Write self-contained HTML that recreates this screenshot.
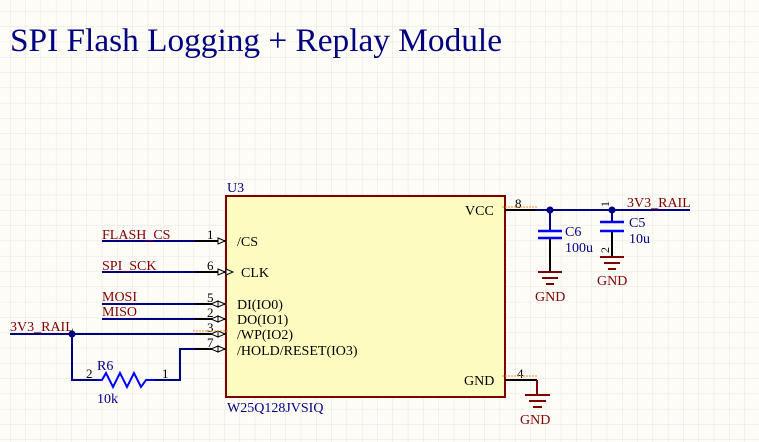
<!DOCTYPE html>
<html><head><meta charset="utf-8"><style>
html,body{margin:0;padding:0;background:#fdfcf7}
svg{display:block}
text{font-family:"Liberation Serif",serif}
</style></head><body>
<svg width="759" height="442" viewBox="0 0 759 442" xmlns="http://www.w3.org/2000/svg">
<defs>
<pattern id="g" x="10" y="11.1" width="15.3" height="15.3" patternUnits="userSpaceOnUse">
<path d="M0 0V15.3M0 0H15.3" stroke="#e7e5df" stroke-width="1" fill="none"/>
</pattern>
</defs>
<rect width="759" height="442" fill="#fdfcf7"/>
<rect width="759" height="442" fill="url(#g)"/>
<text x="10" y="51" font-size="33" fill="#000080" textLength="492" lengthAdjust="spacingAndGlyphs">SPI Flash Logging + Replay Module</text>

<rect x="226" y="196" width="279" height="201" fill="#fdfbc0" stroke="#800000" stroke-width="2"/>
<text x="227" y="192" font-size="14" fill="#000080">U3</text>
<text x="227" y="412" font-size="14" fill="#000080">W25Q128JVSIQ</text>
<g font-size="14" fill="#000">
<text x="237" y="246">/CS</text>
<text x="241" y="277">CLK</text>
<text x="237" y="309">DI(IO0)</text>
<text x="237" y="324">DO(IO1)</text>
<text x="237" y="339">/WP(IO2)</text>
<text x="237" y="355">/HOLD/RESET(IO3)</text>
<text x="465" y="215">VCC</text>
<text x="464" y="385">GND</text>
</g>
<g stroke="#000" stroke-width="2">
<line x1="195" y1="241" x2="226" y2="241"/>
<line x1="195" y1="272" x2="226" y2="272"/>
<line x1="195" y1="304" x2="226" y2="304"/>
<line x1="195" y1="319" x2="226" y2="319"/>
<line x1="195" y1="334" x2="226" y2="334"/>
<line x1="195" y1="349" x2="226" y2="349"/>
<line x1="505" y1="210" x2="535" y2="210"/>
<line x1="505" y1="380" x2="537" y2="380"/>
</g>
<g font-size="13" fill="#000">
<text x="207" y="239">1</text><text x="207" y="270">6</text>
<text x="207" y="302">5</text><text x="207" y="317">2</text>
<text x="207" y="332">3</text><text x="207" y="347">7</text>
<text x="515" y="208">8</text><text x="517" y="378">4</text>
</g>
<g fill="#fff" stroke="#000" stroke-width="1">
<path d="M218 238L225 241L218 244Z"/>
<path d="M218 269L225 272L218 275Z"/><path d="M226 269L233 272L226 275Z"/>
<path d="M218 301L225 304L218 307Z"/><path d="M218 301L211 304L218 307Z"/>
<path d="M218 316L225 319L218 322Z"/><path d="M218 316L211 319L218 322Z"/>
<path d="M218 331L225 334L218 337Z"/><path d="M218 331L211 334L218 337Z"/>
<path d="M218 346L225 349L218 352Z"/><path d="M218 346L211 349L218 352Z"/>
</g>
<g stroke="#f0902a" stroke-width="1" stroke-dasharray="2 1">
<line x1="193" y1="331" x2="229" y2="331"/>
<line x1="502" y1="207" x2="538" y2="207"/>
<line x1="502" y1="376" x2="537" y2="376"/>
</g>
<g stroke="#000080" stroke-width="2" fill="none">
<line x1="102" y1="241" x2="195" y2="241"/>
<line x1="102" y1="272" x2="195" y2="272"/>
<line x1="102" y1="304" x2="195" y2="304"/>
<line x1="102" y1="319" x2="195" y2="319"/>
<line x1="10" y1="334" x2="195" y2="334"/>
<path d="M72 334V380H97"/>
<path d="M155 380H180V349H195"/>
<line x1="535" y1="210" x2="690" y2="210"/>
</g>
<g font-size="14" fill="#800000">
<text x="102" y="239">FLASH_CS</text>
<text x="102" y="270">SPI_SCK</text>
<text x="102" y="301">MOSI</text>
<text x="102" y="316">MISO</text>
<text x="10" y="331">3V3_RAIL</text>
<text x="627" y="207">3V3_RAIL</text>
</g>
<circle cx="72" cy="334" r="3.5" fill="#000080"/>
<circle cx="550" cy="210" r="3.5" fill="#000080"/>
<circle cx="612" cy="210" r="3.5" fill="#000080"/>
<path d="M97 380H102L106 373L113 387L120 373L127 387L134 373L141 387L146 380H155" stroke="#0000ff" stroke-width="2" fill="none"/>
<g font-size="13"><text x="86" y="378" fill="#000">2</text><text x="162" y="378" fill="#000">1</text>
<text x="97" y="370" fill="#000080" font-size="14">R6</text><text x="97" y="403" fill="#000080" font-size="14">10k</text></g>
<g stroke="#000" stroke-width="2"><line x1="550" y1="210" x2="550" y2="231"/><line x1="550" y1="238" x2="550" y2="272"/>
<line x1="612" y1="210" x2="612" y2="222"/><line x1="612" y1="230" x2="612" y2="256"/></g>
<line x1="550" y1="210" x2="550" y2="231" stroke="#000080" stroke-width="2"/>
<line x1="612" y1="210" x2="612" y2="222" stroke="#000080" stroke-width="2"/>
<g stroke="#0000ff" stroke-width="2.5">
<line x1="538" y1="231" x2="562" y2="231"/><line x1="538" y1="238" x2="562" y2="238"/>
<line x1="600" y1="222" x2="624" y2="222"/><line x1="600" y1="231" x2="624" y2="231"/>
</g>
<g font-size="14" fill="#000080"><text x="565" y="236">C6</text><text x="565" y="252">100u</text>
<text x="629" y="227">C5</text><text x="629" y="243">10u</text></g>
<text x="0" y="0" font-size="12" fill="#000" transform="translate(609 207) rotate(-90)">1</text>
<text x="0" y="0" font-size="12" fill="#000" transform="translate(609 253) rotate(-90)">2</text>
<g stroke="#800000" stroke-width="2">
<line x1="538" y1="272" x2="562" y2="272"/><line x1="542" y1="278" x2="558" y2="278"/><line x1="546" y1="284" x2="554" y2="284"/>
<line x1="600" y1="257" x2="624" y2="257"/><line x1="604" y1="263" x2="620" y2="263"/><line x1="608" y1="269" x2="616" y2="269"/>
<line x1="537" y1="380" x2="537" y2="395"/>
<line x1="525" y1="395" x2="550" y2="395"/><line x1="529" y1="401" x2="546" y2="401"/><line x1="533" y1="407" x2="542" y2="407"/>
</g>
<g font-size="14" fill="#800000"><text x="535" y="301">GND</text><text x="597" y="285">GND</text><text x="520" y="424">GND</text></g>
</svg>
</body></html>
